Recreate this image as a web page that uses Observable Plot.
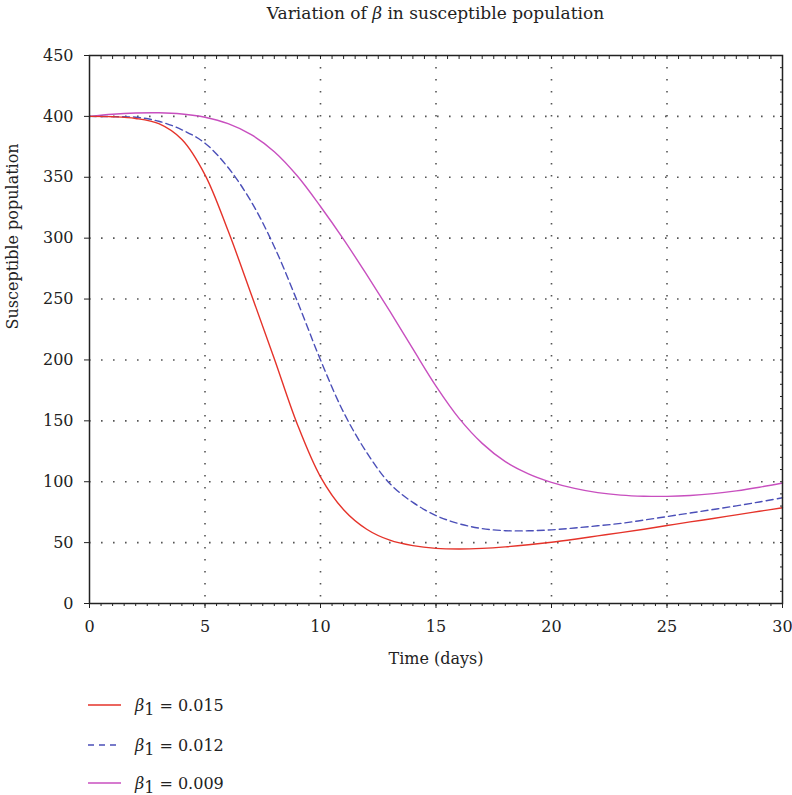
<!DOCTYPE html>
<html>
<head>
<meta charset="utf-8">
<script src="https://cdn.jsdelivr.net/npm/d3@7"></script>
<script src="https://cdn.jsdelivr.net/npm/@observablehq/plot@0.6"></script>
<style>
  html, body { margin: 0; padding: 0; background: #fff; }
  body { width: 792px; height: 795px; position: relative; overflow: hidden;
         font-family: "DejaVu Serif", "Liberation Serif", serif; color: #222; }
  #title { position: absolute; left: 89px; width: 693px; top: 3px; text-align: center; font-size: 17px; }
  #chart { position: absolute; left: 0; top: 40px; }
  .leg { position: absolute; left: 88px; height: 24px; display: flex; align-items: center; font-size: 16px; }
  .leg svg { margin-right: 14px; }
  .b { font-style: italic; }
  .sub { position: relative; top: 4px; margin-right: 5px; }
</style>
</head>
<body>
<div id="title">Variation of <span class="b">β</span> in susceptible population</div>
<div id="chart"></div>
<div class="leg" style="top:693px"><svg width="33" height="4"><line x1="0" x2="33" y1="2" y2="2" stroke="#e5332a" stroke-width="1.4"/></svg><span class="b">β</span><span class="sub">1</span>= 0.015</div>
<div class="leg" style="top:733px"><svg width="33" height="4"><line x1="0" x2="33" y1="2" y2="2" stroke="#4b4fb8" stroke-width="1.4" stroke-dasharray="6,5"/></svg><span class="b">β</span><span class="sub">1</span>= 0.012</div>
<div class="leg" style="top:771px"><svg width="33" height="4"><line x1="0" x2="33" y1="2" y2="2" stroke="#c84fbf" stroke-width="1.4"/></svg><span class="b">β</span><span class="sub">1</span>= 0.009</div>
<script>
const days = [0,1,2,3,4,5,6,7,8,9,10,11,12,13,14,15,16,17,18,19,20,21,22,23,24,25,26,27,28,29,30];
const beta015 = [400,399.7,398.3,394,381,352,306,254,201,147,104,77,61,52,47.5,45.3,44.8,45.3,46.5,48.2,50.3,52.8,55.5,58.2,61,64,67,69.8,72.8,75.7,78.6];
const beta012 = [400,399.8,399.3,396,389,378,358,330,293,248,200,157,124,98.5,83,72.2,65.5,61.5,59.8,59.7,60.5,62,63.8,65.8,68.5,71.4,74.3,77.2,80.2,83.4,86.8];
const beta009 = [400,401.8,402.8,403,402,399.3,394,385,371,351,326,299,270,240,209,178.5,152,131.5,116.5,106.5,99.5,94.5,91,89,88.1,88,88.7,90.2,92.5,95.5,99];
const xTicks = [0,5,10,15,20,25,30];
const yTicks = [0,50,100,150,200,250,300,350,400,450];
const xGrid = [5,10,15,20,25];
const yGrid = [50,100,150,200,250,300,350,400];

const rows = (vals) => days.map((d, i) => ({t: d, v: vals[i]}));
const minorX = d3.range(0, 30.001, 0.5);
const minorY = d3.range(0, 450.001, 10);

const lineOpts = {x: "t", y: "v", curve: "catmull-rom", strokeWidth: 1.4};

const chart = Plot.plot({
  width: 792, height: 640,
  marginTop: 15, marginBottom: 77, marginLeft: 89, marginRight: 10,
  style: {fontFamily: "'DejaVu Serif', 'Liberation Serif', serif", fontSize: "16px", color: "#222", background: "white"},
  x: {domain: [0, 30]},
  y: {domain: [0, 450]},
  marks: [
    Plot.gridX(xGrid, {stroke: "#555", strokeOpacity: 1, strokeWidth: 1.6, strokeDasharray: "1.6,10.4"}),
    Plot.gridY(yGrid, {stroke: "#555", strokeOpacity: 1, strokeWidth: 1.6, strokeDasharray: "1.6,10.4"}),
    Plot.line(rows(beta009), {...lineOpts, stroke: "#c84fbf"}),
    Plot.line(rows(beta012), {...lineOpts, stroke: "#4b4fb8", strokeDasharray: "7,4"}),
    Plot.line(rows(beta015), {...lineOpts, stroke: "#e5332a"}),
    Plot.frame({stroke: "#222", strokeWidth: 1.5}),
    Plot.axisY({ticks: yTicks, tickSize: 5, tickPadding: 11, label: null}),
    Plot.axisX({ticks: xTicks, tickSize: 5, tickPadding: 12, label: null}),
    Plot.axisX({anchor: "bottom", ticks: minorX, tickSize: 3, tickFormat: () => "", label: null}),
    Plot.axisX({anchor: "top", ticks: minorX, tickSize: -3, tickFormat: () => "", label: null}),
    Plot.axisY({anchor: "right", ticks: minorY, tickSize: -3, tickFormat: () => "", label: null}),
    Plot.text(["Susceptible population"], {frameAnchor: "left", dx: -77, rotate: -90, fontSize: 16}),
    Plot.text(["Time (days)"], {frameAnchor: "bottom", dy: 60, fontSize: 16})
  ]
});
document.getElementById("chart").appendChild(chart);
</script>
</body>
</html>
